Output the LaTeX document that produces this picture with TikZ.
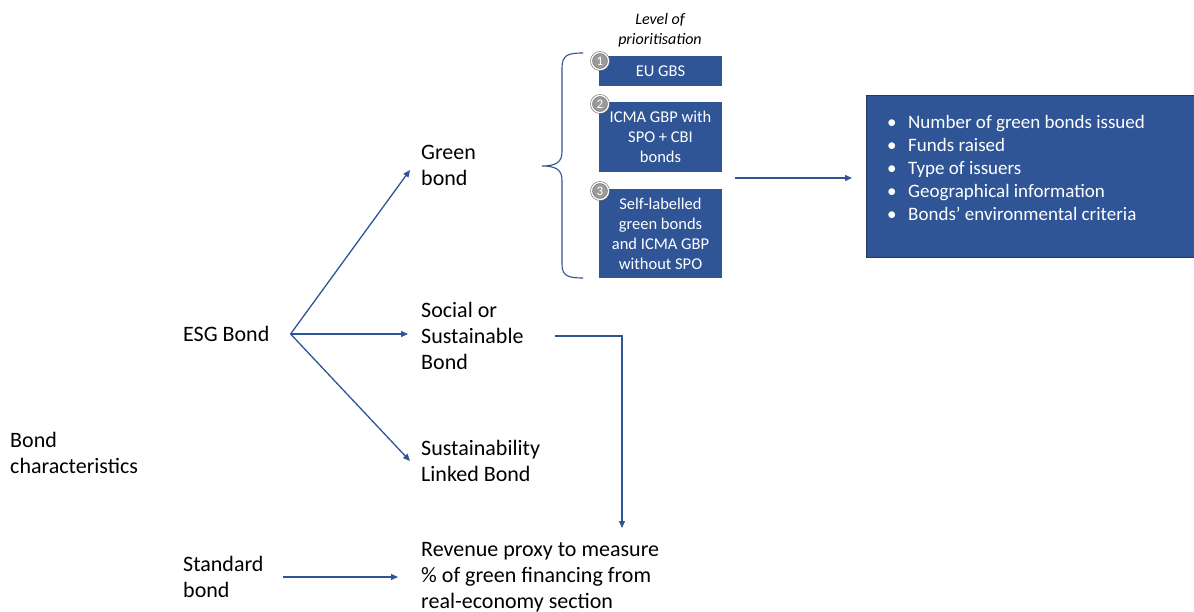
\documentclass[tikz,border=0pt]{standalone}
\usepackage{fontspec}
\setmainfont{Carlito}
\usetikzlibrary{arrows.meta,calc}
\definecolor{boxblue}{HTML}{2F5597}
\definecolor{linkblue}{HTML}{2F5597}
\definecolor{navy}{HTML}{1F3864}
\definecolor{circgray}{HTML}{9A9A9A}
\definecolor{ringgray}{HTML}{6E6E6E}
\begin{document}
\begin{tikzpicture}[x=1pt,y=-1pt,
  txt/.style={anchor=west, align=left, inner sep=0pt, font=\fontsize{22}{26}\selectfont, text=black},
  bluebox/.style={fill=boxblue, draw=none, text=white, align=center, minimum width=123pt, inner sep=0pt, font=\fontsize{16.5}{20}\selectfont},
  num/.style={circle, fill=circgray, draw=ringgray, double=white, double distance=1.3pt, line width=0.6pt, minimum size=17pt, inner sep=0pt, text=white, font=\fontsize{13}{13}\selectfont},
  arr/.style={draw=linkblue, line width=1.3pt, -{Triangle[length=7pt,width=6pt]}},
  bracestyle/.style={draw=linkblue, line width=1.1pt}]
\useasboundingbox (0,0) rectangle (1194,612);
\fill[white] (0,0) rectangle (1194,612);

% left texts
\node[txt] (bc) at (10,453) {Bond\\characteristics};
\node[txt] (esg) at (183,334) {ESG Bond};
\node[txt] (std) at (183,577) {Standard\\bond};
\node[txt] (green) at (421,165) {Green\\bond};
\node[txt] (social) at (421,336) {Social or\\Sustainable\\Bond};
\node[txt] (slb) at (421,461) {Sustainability\\Linked Bond};
\node[txt] (rev) at (421,577) {Revenue proxy to measure\\\% of green financing from\\real-economy section};

% prioritisation
\node[font=\itshape\fontsize{16}{20}\selectfont, align=center, inner sep=0pt] (lvl) at (660,30) {Level of\\prioritisation};
\node[bluebox, minimum height=30pt] (b1) at (660.5,71) {EU GBS};
\node[bluebox, minimum height=70pt] (b2) at (660.5,137) {ICMA GBP with\\SPO + CBI\\bonds};
\node[bluebox, minimum height=89pt] (b3) at (660.5,233.5) {Self-labelled\\green bonds\\and ICMA GBP\\without SPO};
\node[num] (n1) at (600,61) {1};
\node[num] (n2) at (600,104) {2};
\node[num] (n3) at (600,191) {3};

% brace
\draw[bracestyle] (583,53) .. controls (568,53) and (562,55) .. (562,68) -- (562,152)
  .. controls (562,162) and (556,166) .. (542,166)
  .. controls (556,166) and (562,170) .. (562,180) -- (562,264)
  .. controls (562,276) and (568,278) .. (583,278);

% result box
\node[fill=boxblue, draw=navy, line width=1pt, minimum width=340pt, minimum height=162pt, anchor=north west, inner sep=0pt] (res) at (866,95) {};
\node[anchor=west, align=left, inner sep=0pt, text=white, font=\fontsize{19}{23}\selectfont] (list) at (887,168)
  {\makebox[21pt][l]{\textbullet}Number of green bonds issued\\
   \makebox[21pt][l]{\textbullet}Funds raised\\
   \makebox[21pt][l]{\textbullet}Type of issuers\\
   \makebox[21pt][l]{\textbullet}Geographical information\\
   \makebox[21pt][l]{\textbullet}Bonds’ environmental criteria};

% connectors
\coordinate (j) at ([xshift=21pt]esg.east);
\draw[arr] (j) -- ([xshift=-11pt,yshift=-5pt]green.west);
\draw[arr] (j) -- ([xshift=-13pt]social.west |- j);
\draw[arr] (j) -- ([xshift=-11pt]slb.west);
\coordinate (s1) at (555,336);
\coordinate (s2) at (622,528);
\draw[arr] (s1) -| (s2);
\draw[arr] ([xshift=19pt]std.east) -- ([xshift=-23pt]rev.west |- std.east);
\coordinate (a1) at (735,178);
\draw[arr, shorten >=14pt] (a1) -- (a1 -| res.west);
\end{tikzpicture}
\end{document}
